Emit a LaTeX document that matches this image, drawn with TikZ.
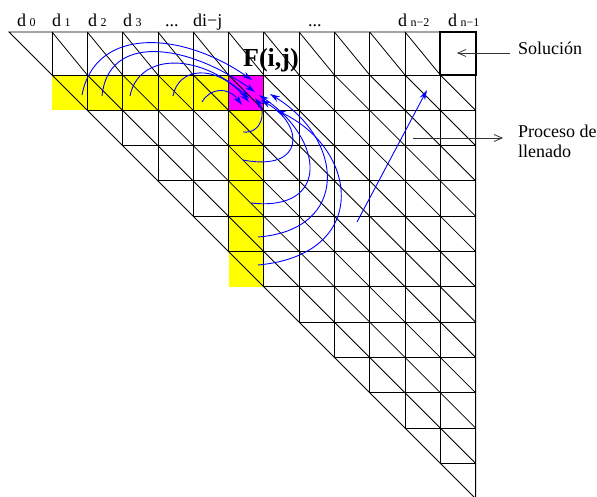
\documentclass[tikz,border=0pt]{standalone}
\usepackage{fontspec}
\setmainfont{Liberation Serif}
\usetikzlibrary{arrows.meta}
\definecolor{dpYellow}{HTML}{FFFF00}
\definecolor{dpMagenta}{HTML}{FF00FF}
\definecolor{dpBlue}{HTML}{0000FF}
\definecolor{dpInk}{HTML}{000000}
\newcommand{\dlabel}[1]{d\hspace{3.5pt}{\fontsize{12}{12}\selectfont #1}}

\begin{document}
\begin{tikzpicture}[x=1pt,y=-1pt,>={Stealth[length=10pt,width=6pt]},
  cellline/.style={dpInk,line width=0.8pt},
  dep/.style={->,dpBlue,line width=0.9pt},
  note/.style={-{Straight Barb[length=8pt,width=7pt]},dpInk!80,line width=0.8pt},
  lbl/.style={anchor=base west,inner sep=0pt,font=\fontsize{18}{20}\selectfont}]
\useasboundingbox (0,0) rectangle (597,497);
% cells used by F(i,j)
\fill[dpYellow] (52,75) rectangle (228.5,110.3);
\fill[dpYellow] (228.5,110.3) rectangle (263.8,286.8);
\fill[dpMagenta] (228.5,75) rectangle (263.8,110.3);
% triangular table
\draw[cellline] (9,32) -- (475.6,32) -- (475.6,498.6) -- cycle;
\foreach \k in {0,...,11}{
  \draw[cellline] ({52+35.3*\k},32) -- ({52+35.3*\k},{75+35.3*\k});
  \draw[cellline] ({52+35.3*\k},{75+35.3*\k}) -- (475.6,{75+35.3*\k});
}
\foreach \k in {0,...,10}
  \draw[cellline] ({52+35.3*\k},32) -- ({87.3+35.3*\k},75) -- (475.6,{463.3-35.3*\k});
\draw[dpInk,line width=2pt] (440.3,32) rectangle (475.6,75);
% column labels
\node[lbl] (d0) at (17,27) {\dlabel{0}};
\node[lbl] (d1) at (52,27) {\dlabel{1}};
\node[lbl] (d2) at (88,27) {\dlabel{2}};
\node[lbl] (d3) at (123,27) {\dlabel{3}};
\node[lbl] (dotsA) at (165,27) {...};
\node[lbl] (dij) at (193,27) {di−j};
\node[lbl] (dotsB) at (308,27) {...};
\node[lbl] (dn2) at (398,27) {\dlabel{n−2}};
\node[lbl] (dn1) at (448,27) {\dlabel{n−1}};
\node[lbl,font=\fontsize{26}{28}\selectfont\bfseries] (fij) at (243,67) {F(i,j)};
% side notes
\node[lbl] (sol) at (518,55) {Solución};
\node[lbl] (proc) at (518,138) {Proceso de};
\node[lbl] (llen) at (518,158) {llenado};
\coordinate (solTail) at (510,53);
\coordinate (solTip) at (457,53);
\coordinate (procTail) at (413,138);
\coordinate (procTip) at (503,138);
\draw[note] (solTail) -- (solTip);
\draw[note] (procTail) -- (procTip);
% dependencies of F(i,j)
\foreach \n/\p in {r1/{82,95},r2/{102,96},r3/{130,96},r4/{173,96},r5/{202,102},
  c1/{243,132},c2/{243,160},c3/{251,203},c4/{258,237},c5/{258,265}}
  \coordinate (\n) at (\p);
\foreach \n/\p in {tr1/{252,80},tr2/{255,92},tr3/{249,98},tr4/{249,102},tr5/{242,105},
  tc1/{255,98},tc2/{261,100},tc3/{259,95},tc4/{270,94},tc5/{276,110}}
  \coordinate (\n) at (\p);
\foreach \s/\a/\b/\e in {r1/{95,27}/{180,30}/tr1, r2/{108,34}/{185,42}/tr2,
  r3/{138,55}/{195,50}/tr3, r4/{178,68}/{215,62}/tr4, r5/{210,88}/{228,86}/tr5,
  c1/{262,134}/{266,112}/tc1, c2/{305,172}/{305,125}/tc2, c3/{330,212}/{325,140}/tc3,
  c4/{350,230}/{345,140}/tc4, c5/{370,255}/{360,150}/tc5}
  \draw[dep] (\s) .. controls (\a) and (\b) .. (\e);
\coordinate (fillStart) at (357,222);
\coordinate (fillEnd) at (427,90);
\draw[dep] (fillStart) -- (fillEnd);
\end{tikzpicture}
\end{document}
